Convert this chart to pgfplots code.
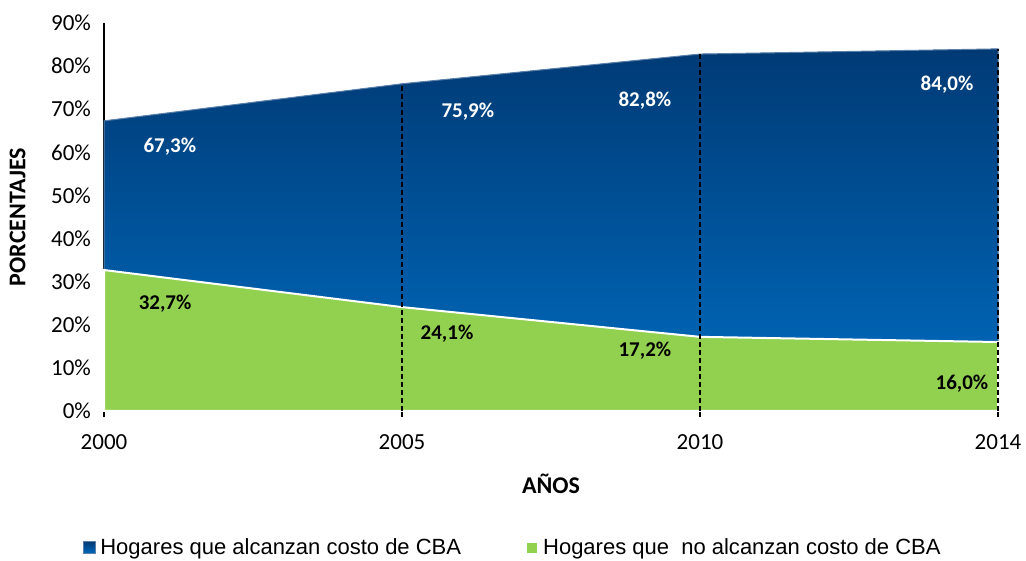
\documentclass[border=0pt]{standalone}
\usepackage{fontspec}
\setmainfont{Carlito}
\newfontfamily\arial{Liberation Sans}
\usepackage{pgfplots}
\pgfplotsset{compat=1.18}
\definecolor{bluetop}{HTML}{003A75}
\definecolor{bluebot}{HTML}{006CC0}
\definecolor{greenfill}{HTML}{92D050}
\definecolor{blueedge}{HTML}{5B7FA8}
\begin{document}
\begin{tikzpicture}
\useasboundingbox (0,0) rectangle (513pt,280.5pt);
\begin{axis}[
  at={(52pt,75pt)}, anchor=south west,
  scale only axis, width=447pt, height=194pt,
  xmin=0, xmax=3, ymin=0, ymax=90,
  axis x line*=bottom, axis y line*=left,
  axis line style={-, black, line width=0.6pt},
  xtick={0,1,2,3}, xticklabels={2000,2005,2010,2014},
  ytick={0,10,...,90},
  yticklabel={\pgfmathprintnumber{\tick}\%},
  /pgf/number format/assume math mode=true,
  tick label style={font=\fontsize{11.5}{13}\selectfont, black},
  x tick style={black, line width=0.6pt},
  tick align=outside, major tick length=3pt,
  y tick style={draw=none},
  xticklabel style={yshift=-5.5pt},
  xlabel={\textbf{AÑOS}}, ylabel={\textbf{PORCENTAJES}},
  label style={font=\fontsize{12}{14}\selectfont},
  xlabel style={yshift=-5pt},
  ylabel style={yshift=6pt},
  legend columns=2,
  legend style={at={(0.4586,-0.353)}, anchor=center, draw=none, fill=none,
    font=\arial\fontsize{11}{13}\selectfont,
    /tikz/every even column/.append style={column sep=30pt}},
  legend image code/.code={\fill[#1] (0pt,-3pt) rectangle (6pt,3pt);},
  clip=false,
]
\addplot[draw=blueedge, line width=0.5pt, top color=bluetop, bottom color=bluebot, fill=bluebot] coordinates {(0,67.3) (1,75.9) (2,82.8) (3,84.0)} \closedcycle;
\addlegendentry{Hogares que alcanzan costo de CBA}
\addplot[draw=white, line width=1pt, fill=greenfill] coordinates {(0,32.7) (1,24.1) (2,17.2) (3,16.0)} \closedcycle;
\addlegendentry{Hogares que\ \ no alcanzan costo de CBA}
\addplot[ycomb, dash pattern=on 2.5pt off 1.5pt, black, line width=0.6pt, forget plot] coordinates {(1,75.9) (2,82.8) (3,84.0)};
\node[white, font=\bfseries\fontsize{10.5}{12}\selectfont] at (axis cs:0.221,61.2) {67,3\%};
\node[white, font=\bfseries\fontsize{10.5}{12}\selectfont] at (axis cs:1.221,69.4) {75,9\%};
\node[white, font=\bfseries\fontsize{10.5}{12}\selectfont] at (axis cs:1.815,72.1) {82,8\%};
\node[white, font=\bfseries\fontsize{10.5}{12}\selectfont] at (axis cs:2.829,75.6) {84,0\%};
\node[black, font=\bfseries\fontsize{10.5}{12}\selectfont] at (axis cs:0.205,24.8) {32,7\%};
\node[black, font=\bfseries\fontsize{10.5}{12}\selectfont] at (axis cs:1.151,17.9) {24,1\%};
\node[black, font=\bfseries\fontsize{10.5}{12}\selectfont] at (axis cs:1.815,13.9) {17,2\%};
\node[black, font=\bfseries\fontsize{10.5}{12}\selectfont] at (axis cs:2.879,6.3) {16,0\%};
\end{axis}
\end{tikzpicture}
\end{document}
